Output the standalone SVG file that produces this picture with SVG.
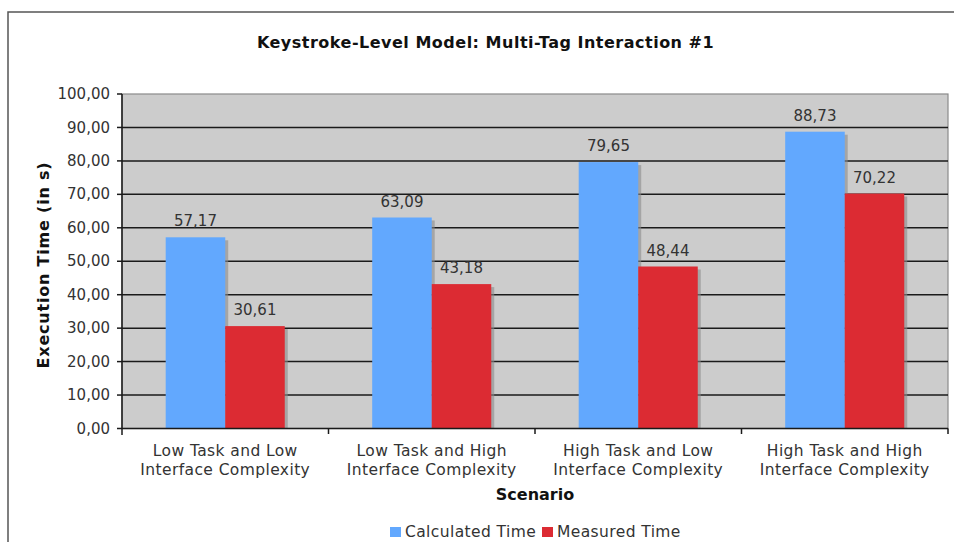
<svg xmlns="http://www.w3.org/2000/svg" width="954" height="542" viewBox="0 0 954 542">
<style>
.t{font-family:"DejaVu Sans","Verdana",sans-serif;font-size:15px;fill:#333}
.l{font-size:15.5px;letter-spacing:0.4px}
.b{font-family:"DejaVu Sans","Verdana",sans-serif;font-weight:bold;font-size:16px;fill:#111}
.grid{stroke:#1a1a1a;stroke-width:1.5}
.tick{stroke:#1a1a1a;stroke-width:1.5}
.calc{fill:#62A8FE}
.meas{fill:#DC2B33}
.sh{fill:#8a8a8a;opacity:0.6}
</style>
<rect x="0" y="0" width="954" height="542" fill="#fff"/>
<path d="M8,548 V12 H960" fill="none" stroke="#555" stroke-width="1.5"/>
<text class="b" x="485.5" y="48" text-anchor="middle" letter-spacing="0.5">Keystroke-Level Model: Multi-Tag Interaction #1</text>
<g id="plot">
<rect x="122" y="94" width="826" height="334.5" fill="#CCCCCC" stroke="#8a8a8a" stroke-width="1.2"/>
<g class="grid">
<line x1="122" y1="395.05" x2="948" y2="395.05"/>
<line x1="122" y1="361.6" x2="948" y2="361.6"/>
<line x1="122" y1="328.15" x2="948" y2="328.15"/>
<line x1="122" y1="294.7" x2="948" y2="294.7"/>
<line x1="122" y1="261.25" x2="948" y2="261.25"/>
<line x1="122" y1="227.8" x2="948" y2="227.8"/>
<line x1="122" y1="194.35" x2="948" y2="194.35"/>
<line x1="122" y1="160.9" x2="948" y2="160.9"/>
<line x1="122" y1="127.45" x2="948" y2="127.45"/>
</g>
</g>
<g id="bars">
<rect class="sh" x="168.7" y="240.3" width="59.5" height="188.2"/>
<rect class="sh" x="228.25" y="329.1" width="59.5" height="99.4"/>
<rect class="sh" x="375.2" y="220.5" width="59.5" height="208"/>
<rect class="sh" x="434.75" y="287.1" width="59.5" height="141.4"/>
<rect class="sh" x="581.7" y="165.1" width="59.5" height="263.4"/>
<rect class="sh" x="641.25" y="269.5" width="59.5" height="159"/>
<rect class="sh" x="788.2" y="134.7" width="59.5" height="293.8"/>
<rect class="sh" x="847.75" y="196.6" width="59.5" height="231.9"/>
<rect class="calc" x="165.7" y="237.3" width="59.55" height="191.2"/>
<rect class="meas" x="225.25" y="326.1" width="59.5" height="102.4"/>
<rect class="calc" x="372.2" y="217.5" width="59.55" height="211"/>
<rect class="meas" x="431.75" y="284.1" width="59.5" height="144.4"/>
<rect class="calc" x="578.7" y="162.1" width="59.55" height="266.4"/>
<rect class="meas" x="638.25" y="266.5" width="59.5" height="162"/>
<rect class="calc" x="785.2" y="131.7" width="59.55" height="296.8"/>
<rect class="meas" x="844.75" y="193.6" width="59.5" height="234.9"/>
</g>
<g id="values" class="t" text-anchor="middle">
<text x="195.5" y="226.3">57,17</text>
<text x="255" y="315.1">30,61</text>
<text x="402" y="206.5">63,09</text>
<text x="461.5" y="273.1">43,18</text>
<text x="608.5" y="151.1">79,65</text>
<text x="668" y="255.5">48,44</text>
<text x="815" y="120.7">88,73</text>
<text x="874.5" y="182.6">70,22</text>
</g>
<g id="axes">
<line x1="122" y1="94" x2="122" y2="435" stroke="#1a1a1a" stroke-width="1.5"/>
<line x1="117" y1="428.5" x2="948" y2="428.5" stroke="#1a1a1a" stroke-width="1.5"/>
<g class="tick">
<line x1="117" y1="395.05" x2="122" y2="395.05"/>
<line x1="117" y1="361.6" x2="122" y2="361.6"/>
<line x1="117" y1="328.15" x2="122" y2="328.15"/>
<line x1="117" y1="294.7" x2="122" y2="294.7"/>
<line x1="117" y1="261.25" x2="122" y2="261.25"/>
<line x1="117" y1="227.8" x2="122" y2="227.8"/>
<line x1="117" y1="194.35" x2="122" y2="194.35"/>
<line x1="117" y1="160.9" x2="122" y2="160.9"/>
<line x1="117" y1="127.45" x2="122" y2="127.45"/>
<line x1="117" y1="94" x2="122" y2="94"/>
<line x1="328.5" y1="428.5" x2="328.5" y2="434"/>
<line x1="535" y1="428.5" x2="535" y2="434"/>
<line x1="741.5" y1="428.5" x2="741.5" y2="434"/>
<line x1="948" y1="428.5" x2="948" y2="434"/>
</g>
</g>
<g id="ylabels" class="t" text-anchor="end">
<text x="110" y="433.5">0,00</text>
<text x="110" y="400">10,00</text>
<text x="110" y="366.6">20,00</text>
<text x="110" y="333.2">30,00</text>
<text x="110" y="299.7">40,00</text>
<text x="110" y="266.3">50,00</text>
<text x="110" y="232.8">60,00</text>
<text x="110" y="199.4">70,00</text>
<text x="110" y="165.9">80,00</text>
<text x="110" y="132.5">90,00</text>
<text x="110" y="99">100,00</text>
</g>
<g id="xlabels" class="t l" text-anchor="middle">
<text x="225.25" y="456">Low Task and Low</text>
<text x="225.25" y="475">Interface Complexity</text>
<text x="431.75" y="456">Low Task and High</text>
<text x="431.75" y="475">Interface Complexity</text>
<text x="638.25" y="456">High Task and Low</text>
<text x="638.25" y="475">Interface Complexity</text>
<text x="844.75" y="456">High Task and High</text>
<text x="844.75" y="475">Interface Complexity</text>
</g>
<text class="b" x="535" y="500" text-anchor="middle">Scenario</text>
<text class="b" transform="translate(49,265) rotate(-90)" text-anchor="middle" letter-spacing="0.8">Execution Time (in s)</text>
<g id="legend">
<rect class="calc" x="390" y="527" width="11" height="10"/>
<text class="t l" x="405" y="537">Calculated Time</text>
<rect class="meas" x="542" y="527" width="11" height="10"/>
<text class="t l" x="557" y="537">Measured Time</text>
</g>
</svg>
